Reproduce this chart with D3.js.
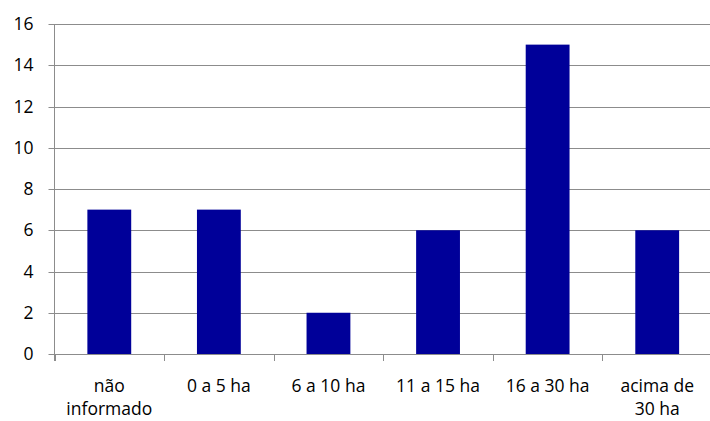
<!DOCTYPE html>
<html>
<head>
<meta charset="utf-8">
<script src="https://cdn.jsdelivr.net/npm/d3@7"></script>
<style>
  body { margin: 0; background: #fff; }
  text { font-family: "Open Sans", sans-serif; font-size: 17.5px; fill: #000; }
</style>
</head>
<body>
<div id="chart"></div>
<script>
// chart data
var categories = ["não informado", "0 a 5 ha", "6 a 10 ha", "11 a 15 ha", "16 a 30 ha", "acima de 30 ha"];
var values = [7, 7, 2, 6, 15, 6];
var yTicks = [0, 2, 4, 6, 8, 10, 12, 14, 16];

var width = 710, height = 421;
var margin = {top: 24, right: -2, bottom: 67, left: 54.5};

var svg = d3.select("#chart").append("svg")
    .attr("width", width)
    .attr("height", height);

var x = d3.scaleBand()
    .domain(categories)
    .range([margin.left, width - margin.right])
    .paddingInner(0.6)
    .paddingOuter(0.3);

var y = d3.scaleLinear()
    .domain([0, 16])
    .range([height - margin.bottom, margin.top]);

// gridlines
svg.append("g")
    .selectAll("line")
    .data(yTicks)
    .enter().append("line")
    .attr("x1", margin.left - 6)
    .attr("x2", width - margin.right)
    .attr("y1", function(d) { return Math.round(y(d)) + 0.5; })
    .attr("y2", function(d) { return Math.round(y(d)) + 0.5; })
    .attr("stroke", "#8c8c8c")
    .attr("stroke-width", 1);

// y labels
svg.append("g")
    .selectAll("text")
    .data(yTicks)
    .enter().append("text")
    .attr("x", margin.left - 21)
    .attr("y", function(d) { return y(d); })
    .attr("dy", "0.35em")
    .attr("text-anchor", "end")
    .text(function(d) { return d; });

// bars
svg.append("g")
    .selectAll("rect")
    .data(values)
    .enter().append("rect")
    .attr("x", function(d, i) { return x(categories[i]); })
    .attr("y", function(d) { return y(d); })
    .attr("width", x.bandwidth())
    .attr("height", function(d) { return y(0) - y(d); })
    .attr("fill", "#000099");

// y axis line
svg.append("line")
    .attr("x1", margin.left).attr("x2", margin.left)
    .attr("y1", y(16)).attr("y2", y(0) + 7)
    .attr("stroke", "#8c8c8c");

// category ticks at band boundaries
var step = x.step();
var bounds = d3.range(categories.length + 1).map(function(i) { return margin.left + i * step; });
svg.append("g")
    .selectAll("line")
    .data(bounds)
    .enter().append("line")
    .attr("x1", function(d) { return Math.round(d) + 0.5; })
    .attr("x2", function(d) { return Math.round(d) + 0.5; })
    .attr("y1", y(0))
    .attr("y2", y(0) + 7)
    .attr("stroke", "#8c8c8c");

// x labels, wrapped like excel does
var lineH = 23;
svg.append("g")
    .selectAll("text")
    .data(categories)
    .enter().append("text")
    .attr("text-anchor", "middle")
    .attr("x", function(d) { return x(d) + x.bandwidth() / 2; })
    .attr("y", y(0) + 38)
    .each(function(d) {
        var node = d3.select(this);
        var words = d.split(" "), line = [], lines = [];
        var tmp = node.append("tspan");
        words.forEach(function(w) {
            line.push(w);
            tmp.text(line.join(" "));
            if (tmp.node().getComputedTextLength() > 92 && line.length > 1) {
                line.pop();
                lines.push(line.join(" "));
                line = [w];
            }
        });
        lines.push(line.join(" "));
        tmp.remove();
        lines.forEach(function(l, i) {
            node.append("tspan")
                .attr("x", x(d) + x.bandwidth() / 2)
                .attr("dy", i == 0 ? 0 : lineH)
                .text(l);
        });
    });
</script>
</body>
</html>
